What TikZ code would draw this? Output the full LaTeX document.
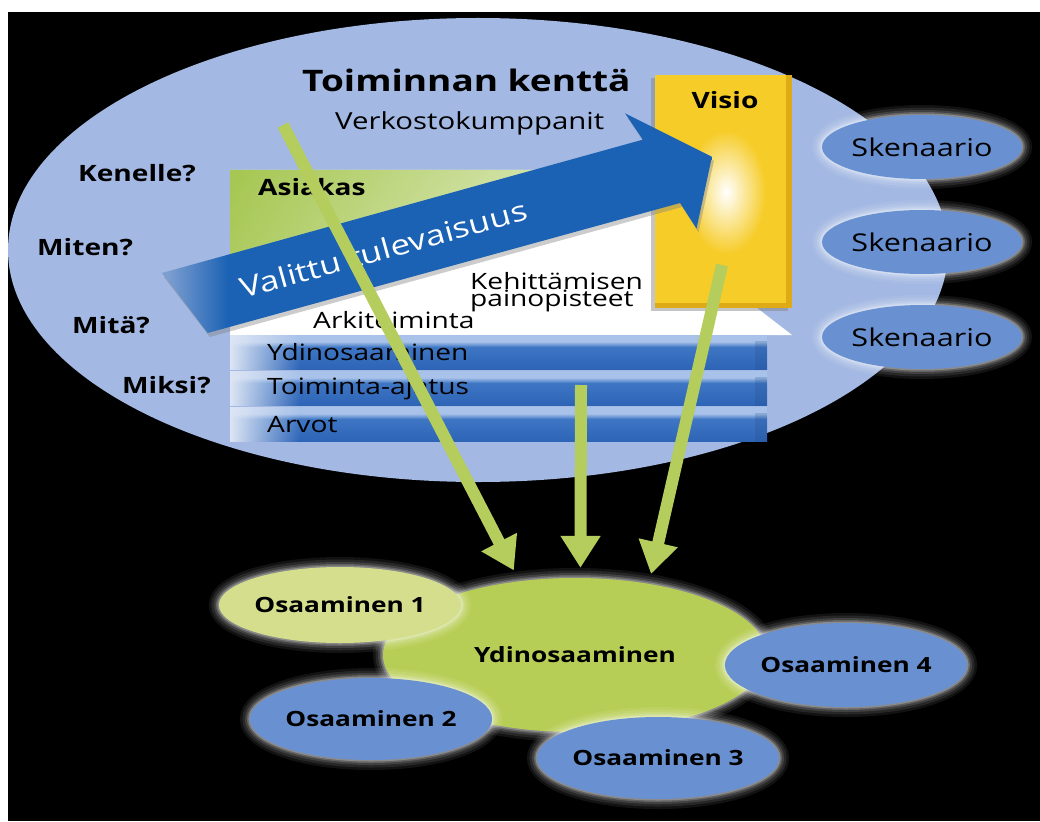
\documentclass[tikz,border=0pt]{standalone}
\usepackage{fontspec}
\setmainfont{Open Sans}[FakeStretch=1.25]
\usetikzlibrary{arrows.meta,shapes.geometric,shadows,shadings,fadings}

\definecolor{fieldblue}{RGB}{163,184,226}
\definecolor{ovalblue}{RGB}{105,145,210}
\definecolor{coregreen}{RGB}{183,206,86}
\definecolor{palegreen}{RGB}{212,222,140}
\definecolor{arrowgreen}{RGB}{180,205,92}
\definecolor{clientgreen}{RGB}{165,198,80}
\definecolor{futureblue}{RGB}{27,98,180}
\definecolor{futurelight}{RGB}{125,158,208}
\definecolor{visioyellow}{RGB}{246,204,40}
\definecolor{visiodark}{RGB}{222,170,22}
\definecolor{barlight}{RGB}{222,230,245}
\definecolor{bartop}{RGB}{168,194,234}
\definecolor{barblue}{RGB}{62,118,196}
\definecolor{bardeep}{RGB}{45,100,182}

\pgfdeclareverticalshading{barshade}{100bp}{color(0bp)=(bardeep); color(25bp)=(bardeep);
  color(58bp)=(barblue); color(66bp)=(bartop); color(75bp)=(bartop); color(100bp)=(bartop)}
\pgfdeclarehorizontalshading{futureshade}{100bp}{color(0bp)=(futurelight); color(25.5bp)=(futurelight);
  color(31bp)=(futureblue); color(100bp)=(futureblue)}

\begin{document}
\begin{tikzpicture}[x=1pt,y=-1pt,node distance=36pt,>={Triangle[width=38pt,length=32pt]}]
  \tikzstyle{ask}=[inner sep=0pt,font=\bfseries\fontsize{22.5}{22.5}\selectfont]
  \tikzstyle{plain}=[inner sep=0pt,font=\fontsize{22.5}{22.5}\selectfont]
  \tikzstyle{glow}=[preaction={draw=white,opacity=0.07,line width=20pt},
                    preaction={draw=white,opacity=0.09,line width=15pt},
                    preaction={draw=white,opacity=0.12,line width=10pt},
                    preaction={draw=white,opacity=0.18,line width=6pt},
                    preaction={draw=white,opacity=0.25,line width=3pt}]
  \tikzstyle{scen}=[ellipse,glow,fill=ovalblue,minimum width=200pt,minimum height=64pt,
                    inner sep=0pt,font=\fontsize{24.5}{24.5}\selectfont]
  \tikzstyle{skill}=[ellipse,glow,fill=ovalblue,minimum width=212pt,minimum height=82pt,
                     inner sep=0pt,font=\bfseries\fontsize{21}{21}\selectfont]
  \tikzstyle{bar}=[rectangle,shading=barshade,minimum width=537pt,minimum height=34pt,
                   inner xsep=37pt,inner ysep=0pt,text width=463pt,align=left,
                   font=\fontsize{22.5}{22.5}\selectfont]
  \tikzstyle{feed}=[->,line width=12pt,draw=arrowgreen]

  \useasboundingbox (0,0) rectangle (1040,821);
  \fill[white] (0,0) rectangle (1040,821);
  \fill[black] (8,12) rectangle (1040,821);
  \begin{scope}
  \clip (8,12) rectangle (1040,821);

  % field of action
  \node[ellipse,fill=fieldblue,minimum width=940pt,minimum height=464pt] (field) at (478,250) {};
  \fill[white] (230,170) -- (700,170) -- (700,308) -- (757,308) -- (792,335) -- (230,335) -- cycle;
  \shade[upper left=clientgreen,upper right=clientgreen!30!white,lower left=clientgreen!85!white,lower right=white]
    (230,170) -- (655,170) -- (655,205) -- (230,325) -- cycle;

  \node[bar] (b1) at (498.5,352.5) {};
  \node[bar,below of=b1] (b2) {};
  \node[bar,below of=b2] (b3) {};
  \foreach \b in {b1,b2,b3} {
    \fill[barlight,path fading=east] (\b.north west) rectangle ([xshift=70pt]\b.south west);
    \fill[bardeep!70!black,opacity=0.2] ([xshift=-12pt,yshift=-6pt]\b.north east) rectangle (\b.south east);
  }
  \node[plain,anchor=west] (core) at (267,352.5) {Ydinosaaminen};
  \node[plain,anchor=west] (idea) at (267,388.5) {Toiminta-ajatus};
  \node[plain,anchor=west] (values) at (267,424.5) {Arvot};

  % vision
  \node[rectangle,fill=visioyellow,minimum width=137pt,minimum height=233pt,
        drop shadow={opacity=0.45,shadow xshift=-4pt,shadow yshift=-3pt}] (visio) at (723.5,191.5) {};
  \fill[visiodark] ([xshift=-6pt]visio.north east) rectangle (visio.south east);
  \fill[visiodark] ([yshift=5pt]visio.south west) rectangle (visio.south east);
  \shade[inner color=white,outer color=visioyellow] (726,192) ellipse (40pt and 62pt);
  \node[ask] (visiotxt) at (725,100) {Visio};

  % chosen future
  \begin{scope}[shift={(162,273)},rotate=15.5]
    \shade[shading=futureshade,drop shadow={opacity=0.4,shadow xshift=2pt,shadow yshift=-4pt}]
      (0,0) -- (499,0) -- (489,-30) -- (561,35) -- (527,100) -- (518,71) -- (28,70) -- cycle;
    \node[transform shape,inner sep=0pt,text=white,font=\fontsize{28}{28}\selectfont] (future) at (220,36) {Valittu tulevaisuus};
  \end{scope}

  \node[anchor=west,inner sep=0pt,font=\bfseries\fontsize{29.6}{29.6}\selectfont] (title) at (302,80) {Toiminnan kenttä};
  \node[anchor=west,inner sep=0pt,font=\fontsize{23.5}{23.5}\selectfont] (network) at (335,123) {Verkostokumppanit};
  \node[ask,anchor=west] (whom) at (78,173) {Kenelle?};
  \node[ask,anchor=west] (how) at (37,247) {Miten?};
  \node[ask,anchor=west] (what) at (72,325) {Mitä?};
  \node[ask,anchor=west] (why) at (122,385) {Miksi?};
  \node[ask,anchor=west] (client) at (258,187) {Asiakas};
  \node[plain,anchor=west] (daily) at (313,320) {Arkitoiminta};
  \node[anchor=west,inner sep=0pt,align=left,font=\fontsize{22.5}{17}\selectfont] (focus) at (470,292) {Kehittämisen\\painopisteet};

  % scenarios
  \node[scen] (s1) at (922,147) {Skenaario};
  \node[scen,below of=s1,node distance=95pt] (s2) {Skenaario};
  \node[scen,below of=s2,node distance=95pt] (s3) {Skenaario};

  % competences
  \node[ellipse,glow,fill=coregreen,minimum width=384pt,minimum height=154pt,inner sep=0pt,
        font=\bfseries\fontsize{21}{21}\selectfont] (ydin) at (575,655) {Ydinosaaminen};
  \node[skill,fill=palegreen,minimum width=214pt,minimum height=76pt] (o1) at (340,605) {Osaaminen 1};
  \node[skill] (o2) at (371,719) {Osaaminen 2};
  \node[skill] (o3) at (658,758) {Osaaminen 3};
  \node[skill,minimum width=214pt,minimum height=84pt] (o4) at (846,665) {Osaaminen 4};

  \coordinate (f1) at (283,125);
  \coordinate (f2) at (581,385);
  \coordinate (f3) at (722,265);
  \draw[feed,shorten >=12pt] (f1) -- (ydin.127);
  \draw[feed,shorten >=10pt] (f2) -- (ydin.86);
  \draw[feed,shorten >=10pt] (f3) -- (ydin.44);
  \end{scope}
\end{tikzpicture}
\end{document}
